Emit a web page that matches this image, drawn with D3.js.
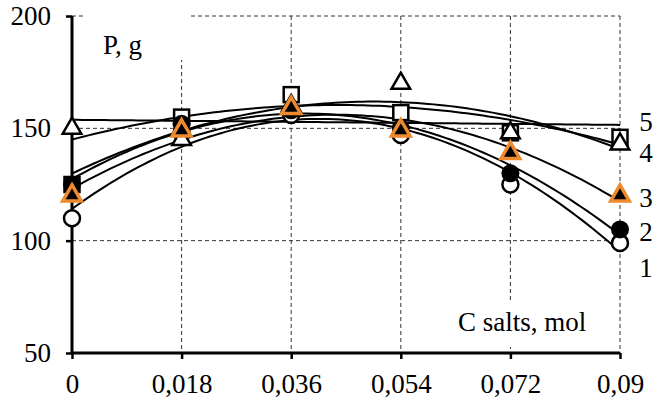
<!DOCTYPE html>
<html><head><meta charset="utf-8">
<script src="https://cdn.jsdelivr.net/npm/d3@7"></script>
<style>body{margin:0;background:#fff}svg{display:block}text{font-family:"Liberation Serif","Times New Roman",serif;fill:#000}</style>
</head><body><svg id="c" width="660" height="403"></svg>
<script>
const xValues = [0, 0.018, 0.036, 0.054, 0.072, 0.09];
const yTicks = [50, 100, 150, 200];
const s1OpenCircle = [110, 148, 156, 147, 125, 99];
const s2FilledCircle = [125, 152, 158, 150, 130, 105];
const s3OrangeTriangle = [120, 149, 159, 149, 139, 120];
const s4OpenTriangle = [150, 145, 160, 170, 148, 143];
const s5OpenSquare = [125, 155, 165, 157, 148, 146];
const curveLabels = ["5", "4", "3", "2", "1"];
const curveLabelY = [153, 139, 119, 104, 88];
const yTitle = "P, g";
const xTitle = "C salts, mol";

const svg = d3.select("#c");
const x = d3.scaleLinear().domain([0, 0.09]).range([72, 620]);
const y = d3.scaleLinear().domain([50, 200]).range([353, 16]);

// least squares polynomial fit (trendline)
function polyfit(xs, ys, deg) {
  const n = deg + 1;
  const A = Array.from({length: n}, () => new Array(n + 1).fill(0));
  xs.forEach((xv, i) => {
    for (let r = 0; r < n; r++) {
      for (let c = 0; c < n; c++) A[r][c] += Math.pow(xv, r + c);
      A[r][n] += ys[i] * Math.pow(xv, r);
    }
  });
  for (let i = 0; i < n; i++) {
    let p = i;
    for (let k = i + 1; k < n; k++) if (Math.abs(A[k][i]) > Math.abs(A[p][i])) p = k;
    [A[i], A[p]] = [A[p], A[i]];
    for (let k = 0; k < n; k++) if (k !== i) {
      const f = A[k][i] / A[i][i];
      for (let c = i; c <= n; c++) A[k][c] -= f * A[i][c];
    }
  }
  return A.map((row, i) => row[n] / row[i]);
}
const idx = xValues.map((d, i) => i);

// grid
const grid = svg.append("g").attr("stroke", "#333").attr("stroke-width", 1).attr("stroke-dasharray", "4,3");
[100, 150, 200].forEach(v => grid.append("line").attr("x1", x(0)).attr("x2", x(0.09)).attr("y1", y(v)).attr("y2", y(v)));
xValues.slice(1).forEach(v => grid.append("line").attr("x1", x(v)).attr("x2", x(v)).attr("y1", y(200)).attr("y2", y(50)));

// label backgrounds
svg.append("rect").attr("x", 85).attr("y", 8).attr("width", 105).attr("height", 52).attr("fill", "#fff");
svg.append("rect").attr("x", 445).attr("y", 300).attr("width", 155).attr("height", 47).attr("fill", "#fff");

svg.append("text").attr("x", 103).attr("y", 54).attr("font-size", 27).text(yTitle);
svg.append("text").attr("x", 458).attr("y", 331).attr("font-size", 27).text(xTitle);

// trendlines
const line = d3.line().x(d => x(d[0])).y(d => y(d[1]));
const samples = d3.range(0, 5.0001, 0.05);
function trend(vals, deg) {
  const c = polyfit(idx, vals, deg);
  const pts = samples.map(t => [t * 0.018, c.reduce((s, ci, k) => s + ci * Math.pow(t, k), 0)]);
  svg.append("path").attr("d", line(pts)).attr("fill", "none").attr("stroke", "#000").attr("stroke-width", 2);
}
[s1OpenCircle, s2FilledCircle, s3OrangeTriangle, s4OpenTriangle, s5OpenSquare].forEach(s => trend(s, 2));
trend(s4OpenTriangle, 1);

// axes
const ya = svg.append("g").attr("transform", `translate(${x(0)},0)`)
  .call(d3.axisLeft(y).tickValues(yTicks).tickSize(6).tickPadding(15).tickFormat(d3.format("d")));
const xa = svg.append("g").attr("transform", `translate(0,${y(50)})`)
  .call(d3.axisBottom(x).tickValues(xValues).tickSize(6).tickPadding(15).tickFormat(d => String(d).replace(".", ",")));
[ya, xa].forEach(a => {
  a.select(".domain").attr("stroke", "#000").attr("stroke-width", 3);
  a.selectAll(".tick line").attr("stroke", "#000").attr("stroke-width", 2.5);
  a.selectAll("text").attr("font-size", 27).attr("font-family", "Liberation Serif, Times New Roman, serif").attr("fill", "#000");
});
xa.select(".domain").attr("d", `M${x(0)},0H${x(0.09)}`);
ya.select(".domain").attr("d", `M0,${y(50)}V${y(200)}`);

// markers
const pts = (vals) => vals.map((v, i) => [xValues[i], v]);
const tri = d3.symbol().type(d3.symbolTriangle).size(150);
svg.append("g").selectAll("rect").data(pts(s5OpenSquare)).join("rect")
  .attr("x", d => x(d[0]) - 7.5).attr("y", d => y(d[1]) - 7.5).attr("width", 15).attr("height", 15)
  .attr("fill", "#fff").attr("stroke", "#000").attr("stroke-width", 2.5);
svg.append("g").selectAll("circle").data(pts(s1OpenCircle)).join("circle")
  .attr("cx", d => x(d[0])).attr("cy", d => y(d[1])).attr("r", 8)
  .attr("fill", "#fff").attr("stroke", "#000").attr("stroke-width", 2.5);
svg.append("g").selectAll("circle").data(pts(s2FilledCircle)).join("circle")
  .attr("cx", d => x(d[0])).attr("cy", d => y(d[1])).attr("r", 9).attr("fill", "#000");
svg.append("g").selectAll("path").data(pts(s4OpenTriangle)).join("path")
  .attr("d", tri).attr("transform", d => `translate(${x(d[0])},${y(d[1])})`)
  .attr("fill", "#fff").attr("stroke", "#000").attr("stroke-width", 2.5);
svg.append("g").selectAll("path").data(pts(s3OrangeTriangle)).join("path")
  .attr("d", tri).attr("transform", d => `translate(${x(d[0])},${y(d[1])})`)
  .attr("fill", "#000").attr("stroke", "#EE8A2E").attr("stroke-width", 3.5);

// right labels
svg.append("g").selectAll("text").data(curveLabels).join("text")
  .attr("x", 646).attr("y", (d, i) => y(curveLabelY[i])).attr("dy", "0.35em")
  .attr("text-anchor", "middle").attr("font-size", 27).text(d => d);
</script></body></html>
